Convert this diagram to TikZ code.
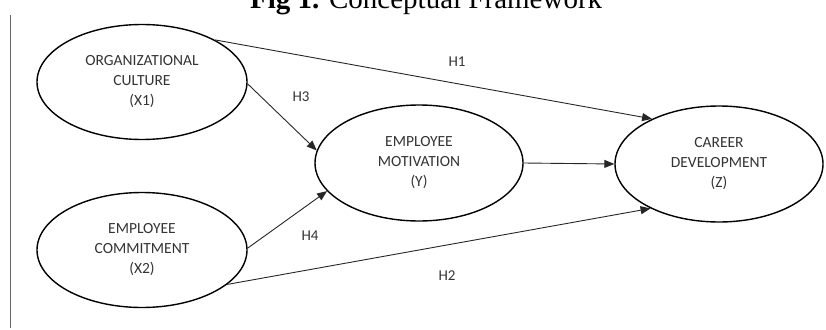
\documentclass[tikz,border=0pt]{standalone}
\usepackage{fontspec}
\setmainfont{Carlito}
\newfontfamily\titlefont{Liberation Serif}
\usetikzlibrary{shapes.geometric,arrows.meta}
\tikzset{
  construct/.style={ellipse, draw=black, line width=1.4pt, minimum width=210pt, minimum height=115pt, inner sep=0pt, align=center, text=black!80, font=\fontsize{15.5}{20}\selectfont},
  link/.style={draw=black!85, line width=0.9pt, -{Triangle[length=10pt,width=8pt]}},
  hlabel/.style={text=black!80, font=\fontsize{15}{18}\selectfont, inner sep=0pt},
}
\begin{document}
\begin{tikzpicture}[x=1pt,y=-1pt]
\useasboundingbox (0,0) rectangle (826,329);
\node[anchor=base west, inner sep=0pt, font=\titlefont\fontsize{29}{32}\selectfont] (title) at (250,9) {\textbf{Fig 1.} Conceptual Framework};
\coordinate (vtop) at (10,15);
\coordinate (vbot) at (10,328);
\draw[black!60, line width=0.9pt] (vtop) -- (vbot);
\node[construct] (x1) at (142,82) {ORGANIZATIONAL\\CULTURE\\(X1)};
\node[construct] (x2) at (142,250) {EMPLOYEE\\COMMITMENT\\(X2)};
\node[construct, minimum width=208pt, minimum height=116pt] (y) at (419,163) {EMPLOYEE\\MOTIVATION\\(Y)};
\node[construct, minimum width=208pt, minimum height=116pt] (z) at (719,164) {CAREER\\DEVELOPMENT\\(Z)};
\draw[link] (x1.30.6) -- (z.146.7);
\draw[link] (x1.-1) -- (y.173);
\draw[link] (x2.1.6) -- (y.197.5);
\draw[link] (x2.-22) -- (z.213.7);
\draw[link] (y.east) -- (z.west);
\node[hlabel] (h1) at (457,62) {H1};
\node[hlabel] (h3) at (301,97) {H3};
\node[hlabel] (h4) at (310,236) {H4};
\node[hlabel] (h2) at (447,276) {H2};
\end{tikzpicture}
\end{document}
